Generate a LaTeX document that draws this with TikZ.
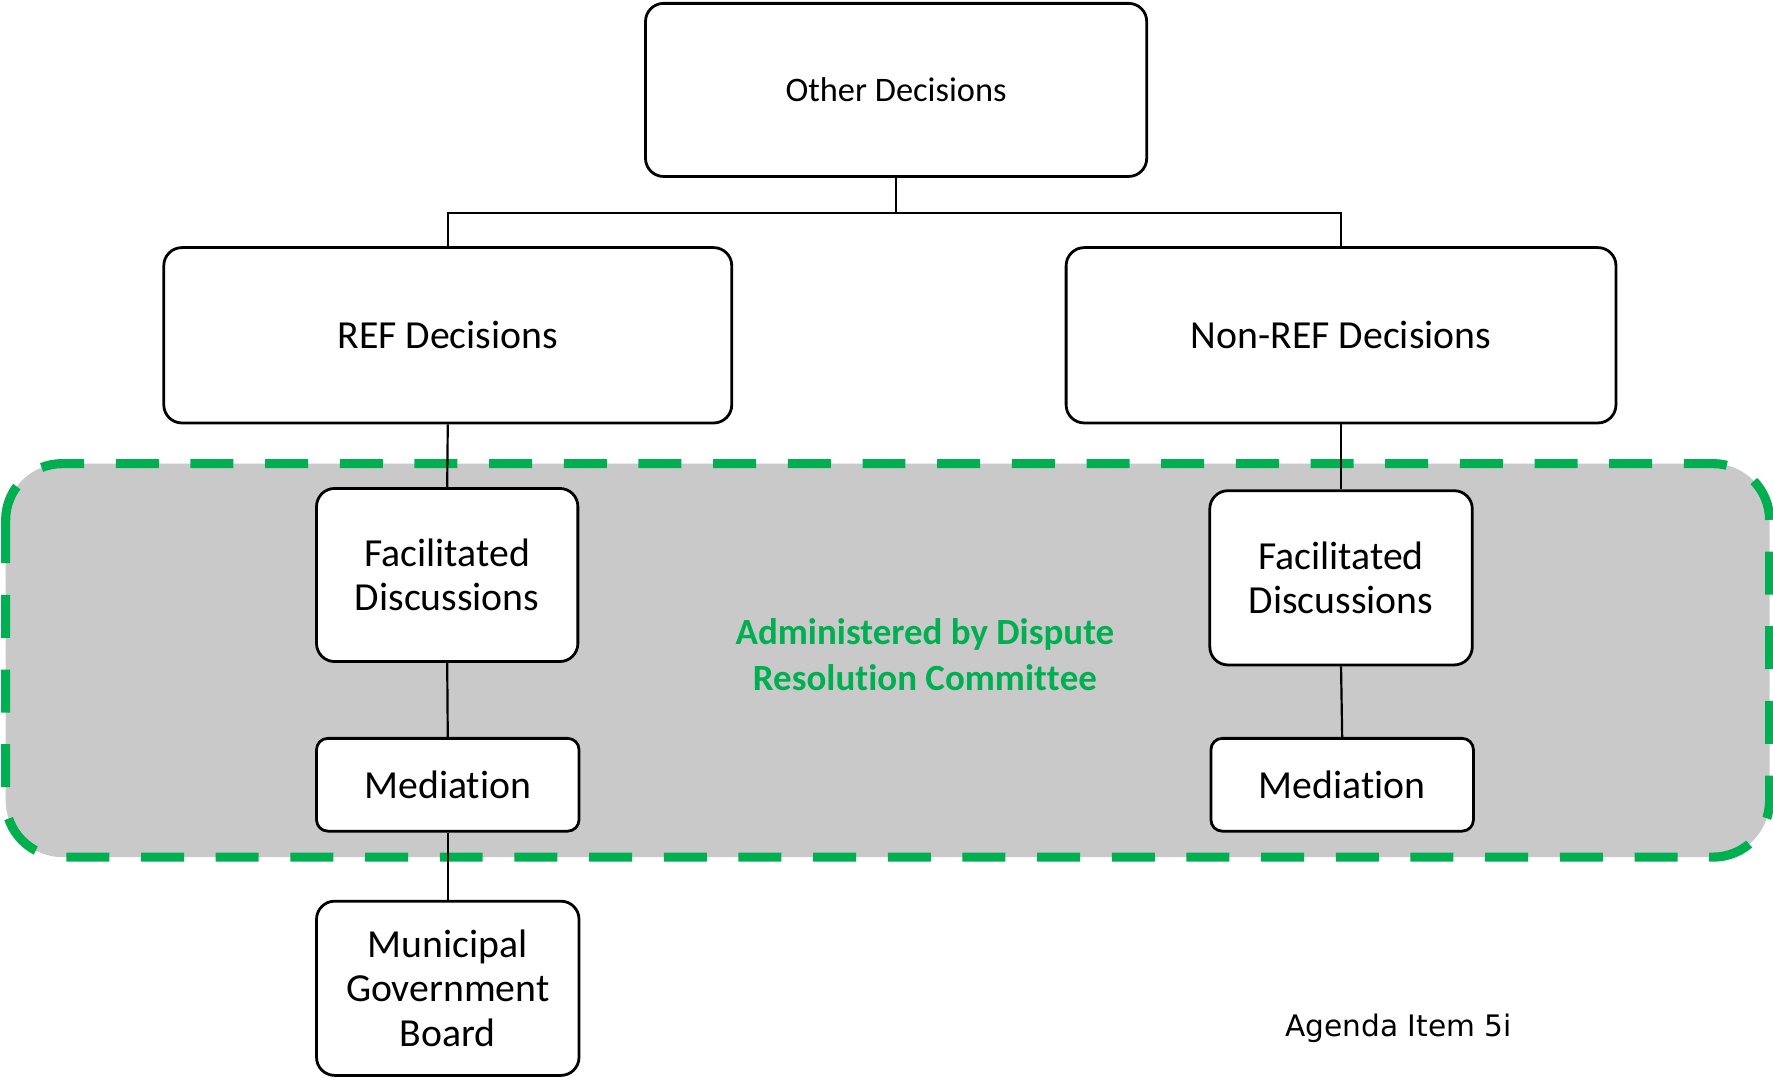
\documentclass[tikz,border=0pt]{standalone}
\usepackage{fontspec}
\setmainfont{Carlito}[Ligatures={NoCommon,NoContextual,NoRequired},RawFeature=-calt]
\newfontfamily\dejavu{DejaVu Sans}
\definecolor{zonegreen}{HTML}{00B050}
\definecolor{zonegray}{HTML}{C9C9C9}
\begin{document}
\begin{tikzpicture}[x=0.01cm,y=-0.01cm,
  box/.style={draw=black, line width=0.7pt, fill=white, rounded corners=0.16cm,
    align=center, inner sep=0pt, font=\fontsize{10}{11.1}\selectfont},
  smallbox/.style={box, rounded corners=0.1cm},
  link/.style={draw=black, line width=0.55pt},
  zone/.style={draw=zonegreen, fill=zonegray, line width=2.3pt,
    dash pattern=on 0.38cm off 0.28cm, rounded corners=0.5cm}]
\useasboundingbox (0,0) rectangle (1568,953);
% administered zone
\path[zone] (5,410) rectangle (1565,758);
% nodes
\node[box, minimum width=4.43cm, minimum height=1.53cm, font=\fontsize{8.65}{10}\selectfont] (other) at (792.5,79.5) {Other Decisions};
\node[box, minimum width=5.02cm, minimum height=1.55cm] (ref) at (396,296.5) {REF Decisions};
\node[box, minimum width=4.86cm, minimum height=1.55cm] (nonref) at (1186,296.5) {Non-REF Decisions};
\node[box, minimum width=2.31cm, minimum height=1.53cm] (fd1) at (395.5,508.5) {Facilitated\\Discussions};
\node[smallbox, minimum width=2.32cm, minimum height=0.82cm] (med1) at (396,694) {Mediat\kern0pt ion};
\node[box, minimum width=2.32cm, minimum height=1.54cm] (mgb) at (396,874) {Municipal\\Government\\Board};
\node[box, minimum width=2.32cm, minimum height=1.54cm] (fd2) at (1186,511) {Facilitated\\Discussions};
\node[smallbox, minimum width=2.32cm, minimum height=0.82cm] (med2) at (1187,694) {Mediat\kern0pt ion};
\node[text=zonegreen, align=center, inner sep=0pt, font=\bfseries\fontsize{9.3}{11.4}\selectfont] (zonelabel) at (818,579) {Administered by Dispute\\Resolut\kern0pt ion Commit\kern0pt t\kern0pt ee};
\node[inner sep=0pt, font=\dejavu\fontsize{7.45}{9}\selectfont] (agenda) at (1237,909) {Agenda Item 5i};
% connectors
\draw[link] (other.south) -- ++(0,31) coordinate (split) -| (ref.north);
\draw[link] (split) -| (nonref.north);
\draw[link] (ref.south) -- (fd1.north);
\draw[link] (fd1.south) -- (med1.north);
\draw[link] (med1.south) -- (mgb.north);
\draw[link] (nonref.south) -- (fd2.north);
\draw[link] (fd2.south) -- (med2.north);
\end{tikzpicture}
\end{document}
